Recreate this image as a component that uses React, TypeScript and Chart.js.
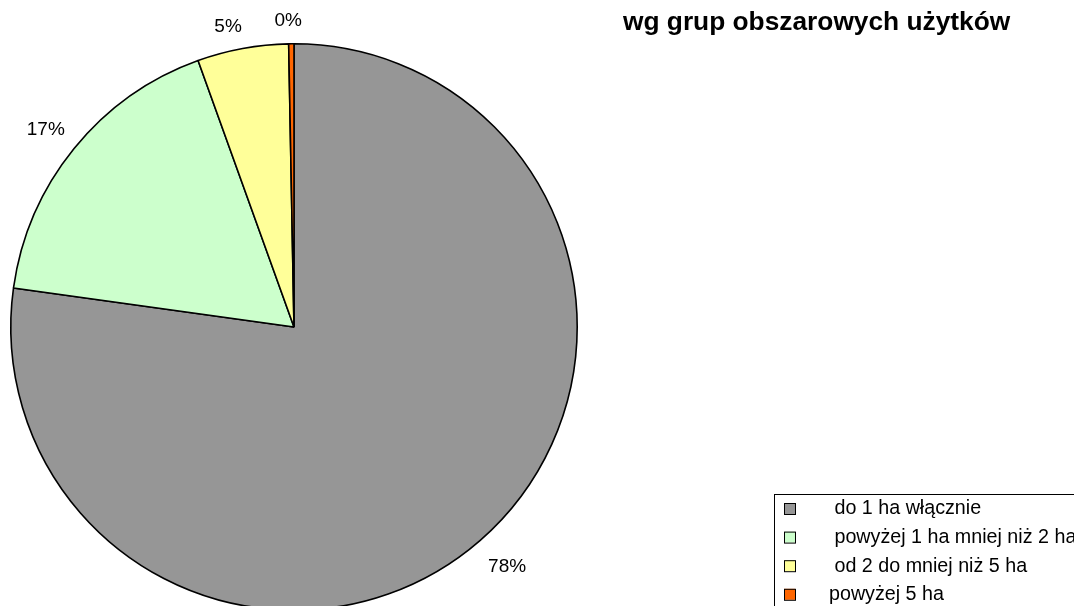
import React, { useEffect, useRef } from "react";
import { Chart, registerables } from "chart.js";

Chart.register(...registerables);

const categories = [
  " do 1 ha włącznie",
  " powyżej 1 ha mniej niż 2 ha",
  " od 2 do mniej niż 5 ha",
  "powyżej 5 ha",
];
const values = [77.2, 17.3, 5.2, 0.3];
const percentLabels = ["78%", "17%", "5%", "0%"];
const colors = ["#969696", "#CCFFCC", "#FFFF99", "#FF6600"];
const titleLines = ["wg grup obszarowych użytków"];

const FONT = "'Liberation Sans', Arial, sans-serif";
// small layout nudges for label placement (pixels), like Excel's overlap avoidance
const labelNudge = [
  [5, 1],
  [-1, 3],
  [-10, 3],
  [-3, 0],
];

const labelPlugin = {
  id: "sliceLabels",
  afterDatasetsDraw(chart: any) {
    const ctx = chart.ctx;
    const meta = chart.getDatasetMeta(0);
    ctx.save();
    ctx.font = `19px ${FONT}`;
    ctx.fillStyle = "#000";
    ctx.textAlign = "center";
    ctx.textBaseline = "middle";
    meta.data.forEach((arc: any, i: number) => {
      const p = arc.getProps(["x", "y", "startAngle", "endAngle", "outerRadius"], true);
      const mid = (p.startAngle + p.endAngle) / 2;
      const ux = Math.cos(mid);
      const uy = Math.sin(mid);
      const text = percentLabels[i];
      const w = ctx.measureText(text).width;
      const h = 14;
      const half = Math.abs(ux) * (w / 2) + Math.abs(uy) * (h / 2);
      const d = p.outerRadius + 16 + half;
      const n = labelNudge[i] || [0, 0];
      ctx.fillText(text, p.x + ux * d + n[0], p.y + uy * d + n[1]);
    });
    ctx.restore();
  },
};

const decorPlugin = {
  id: "decor",
  afterDraw(chart: any) {
    const ctx = chart.ctx;
    ctx.save();
    // title
    ctx.font = `bold 26.3px ${FONT}`;
    ctx.fillStyle = "#000";
    ctx.textAlign = "left";
    ctx.textBaseline = "alphabetic";
    titleLines.forEach((t, i) => {
      ctx.fillText(t, 623, 30 + i * 30);
    });
    // legend box
    ctx.strokeStyle = "#000";
    ctx.lineWidth = 1;
    ctx.strokeRect(774.5, 494.5, 400, 200);
    ctx.font = `19.7px ${FONT}`;
    ctx.textBaseline = "middle";
    categories.forEach((c, i) => {
      const cy = 509 + i * 28.6;
      ctx.fillStyle = colors[i];
      ctx.fillRect(784, cy - 6, 11, 11);
      ctx.strokeStyle = "#000";
      ctx.strokeRect(784.5, cy - 5.5, 11, 11);
      ctx.fillStyle = "#000";
      ctx.fillText(c, 829, cy);
    });
    ctx.restore();
  },
};

export default function App() {
  const ref = useRef<HTMLCanvasElement | null>(null);
  useEffect(() => {
    if (!ref.current) return;
    const chart = new Chart(ref.current, {
      type: "pie",
      data: {
        labels: categories,
        datasets: [
          {
            data: values,
            backgroundColor: colors,
            borderColor: "#000",
            borderWidth: 1.6,
          },
        ],
      },
      options: {
        responsive: false,
        animation: false,
        devicePixelRatio: 1,
        layout: { padding: { left: 10, top: 43, right: 496, bottom: 10 } },
        plugins: {
          legend: { display: false },
          tooltip: { enabled: false },
          title: { display: false },
        },
      },
      plugins: [labelPlugin, decorPlugin],
    });
    return () => chart.destroy();
  }, []);
  return (
    <div
      style={{
        position: "absolute",
        left: 0,
        top: 0,
        width: 1074,
        height: 606,
        overflow: "hidden",
        background: "#fff",
      }}
    >
      <canvas ref={ref} width={1074} height={621} style={{ display: "block" }} />
    </div>
  );
}
